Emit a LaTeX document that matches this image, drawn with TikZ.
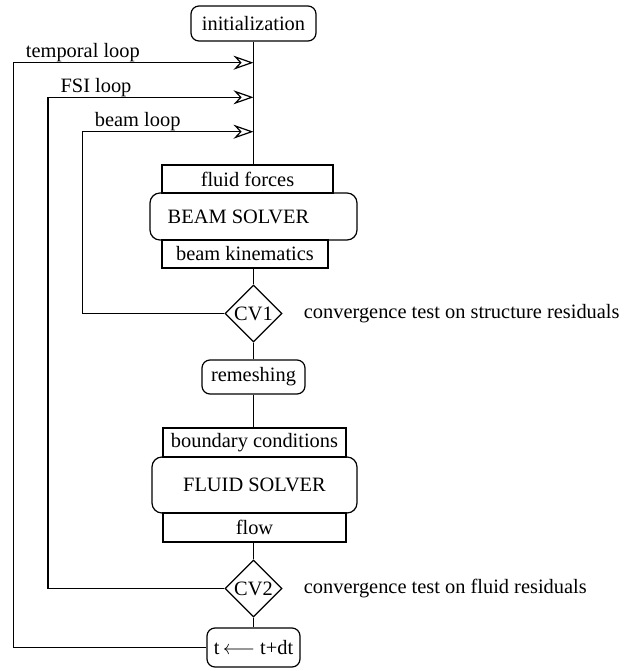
\documentclass[tikz,border=0pt]{standalone}
\usepackage{fontspec}
\setmainfont{Liberation Serif}
\usetikzlibrary{arrows.meta,shapes.geometric,positioning}

\begin{document}
\begin{tikzpicture}[x=0.5pt,y=-0.5pt,line width=0.6pt,font=\fontsize{10.2}{12}\selectfont,
    rbox/.style={rectangle,rounded corners=4pt,draw,inner sep=0pt},
    sbox/.style={rectangle,draw,inner sep=0pt,minimum height=14pt},
    test/.style={diamond,draw,inner sep=0pt,minimum width=28.5pt,minimum height=28.5pt},
    back/.style={-{Stealth[open,length=10pt,width=7pt]}},
    looplabel/.style={anchor=south west,inner xsep=1pt,inner ysep=0pt,xshift=5pt}]
    \useasboundingbox (0,0) rectangle (637,671);
    \node[rbox,minimum width=62.5pt,minimum height=17.5pt](init) at (253.5,23.5){initialization};
    \node[sbox,minimum width=85.5pt](ff) at (247.5,179){fluid forces};
    \node[rbox,rounded corners=5pt,minimum width=103.5pt,minimum height=23.5pt](beam) at (253.5,216.5){BEAM SOLVER\kern15pt};
    \node[sbox,minimum width=83pt](bk) at (245,254){beam kinematics};
    \node[test](cv1) at (253.5,313.5){CV1};
    \node[right=7pt of cv1](cv1txt){convergence test on structure residuals};
    \node[rbox,minimum width=51.5pt,minimum height=17pt](remesh) at (253.5,377){remeshing};
    \node[sbox,minimum width=91.5pt,minimum height=14.5pt](bc) at (254.5,442.5){boundary conditions};
    \node[rbox,rounded corners=5pt,minimum width=102.5pt,minimum height=28pt](fluid) at (254.5,485){FLUID SOLVER};
    \node[sbox,minimum width=91.5pt,minimum height=14.5pt](flow) at (254.5,527.5){flow};
    \node[test](cv2) at (253.5,588.5){CV2};
    \node[right=7pt of cv2](cv2txt){convergence test on fluid residuals};
    \node[rbox,inner xsep=3pt,minimum width=46.5pt,minimum height=19.5pt](tstep) at (253.5,647.5){t\,$\longleftarrow$\ t+dt};
    \coordinate(tin) at (253.5,62.7);
    \coordinate(fin) at (253.5,97.3);
    \coordinate(bin) at (253.5,131.7);
    \draw(init.south)--(init.south|-ff.north);
    \draw(cv1.north|-bk.south)--(cv1.north);
    \draw(cv1.south)--(remesh.north);
    \draw(remesh.south)--(remesh.south|-bc.north);
    \draw(cv2.north|-flow.south)--(cv2.north);
    \draw(cv2.south)--(tstep.north);
    \draw[back](tstep.west)-|([xshift=-120.1pt]tin)node[looplabel]{temporal loop}--(tin);
    \draw[back](cv2.west)-|([xshift=-102.75pt]fin)node[looplabel]{FSI loop}--(fin);
    \draw[back](cv1.west)-|([xshift=-85.6pt]bin)node[looplabel]{beam loop}--(bin);
\end{tikzpicture}
\end{document}
